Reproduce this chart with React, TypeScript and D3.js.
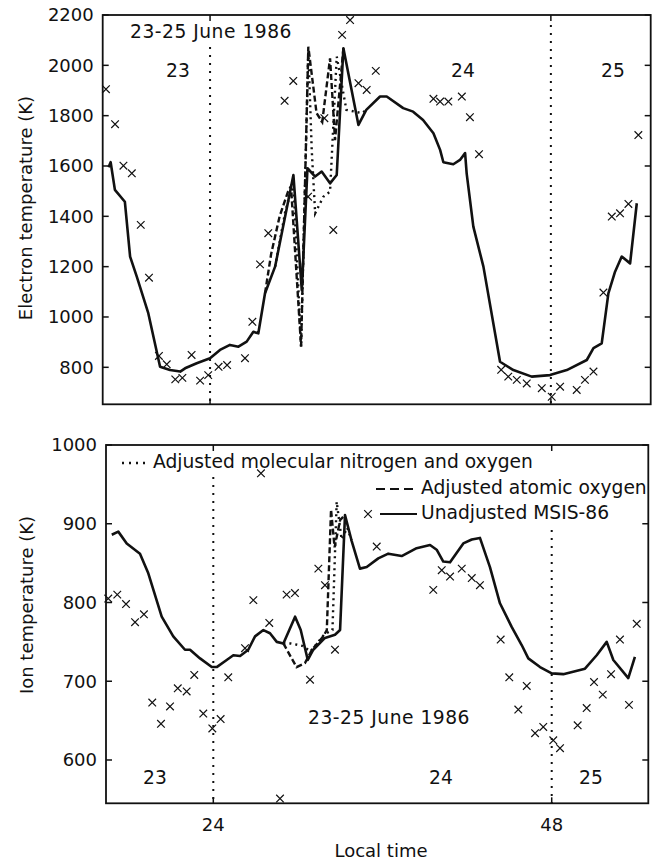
import React from 'react';
import * as d3 from 'd3';

// ---------- Data ----------
// Top panel: electron temperature (K) vs local time (h)
const teModelHours = [16.85, 17.0, 17.3, 18.0, 18.37, 18.84, 19.65, 20.48, 21.18, 21.9, 22.24, 23.06, 24.0, 24.7, 25.4, 26.0, 26.58, 27.05, 27.4, 27.87, 28.58, 29.87, 30.46, 30.86, 31.4, 31.86, 32.45, 32.92, 33.39, 34.45, 35.0, 35.97, 36.44, 37.6, 38.3, 39.0, 39.73, 40.2, 40.43, 41.13, 41.6, 41.96, 42.07, 42.54, 43.25, 44.42, 45.36, 46.65, 47.94, 49.12, 50.53, 51.0, 51.58, 52.05, 52.52, 52.99, 53.58, 54.05];
const teModelTemps = [1595, 1615, 1505, 1458, 1240, 1160, 1015, 802, 789, 783, 796, 816, 836, 869, 889, 882, 902, 941, 935, 1094, 1200, 1564, 1107, 1591, 1558, 1578, 1531, 1564, 2068, 1763, 1823, 1876, 1876, 1830, 1816, 1783, 1730, 1664, 1615, 1607, 1624, 1651, 1571, 1359, 1200, 822, 789, 763, 769, 789, 829, 876, 895, 1094, 1180, 1240, 1213, 1452];

const teAtomicHours = [27.87, 28.3, 28.9, 29.5, 29.7, 30.41, 30.92, 31.5, 31.9, 32.45, 32.8, 33.39];
const teAtomicTemps = [1094, 1250, 1400, 1500, 1520, 882, 2074, 1810, 1775, 2028, 1703, 2068];

const teMolecularHours = [28.58, 29.3, 29.87, 30.41, 30.92, 31.16, 31.4, 31.98, 32.45, 32.92, 33.6, 34.68, 35.0];
const teMolecularTemps = [1200, 1420, 1530, 882, 2060, 1664, 1412, 1478, 1498, 2035, 1823, 1810, 1823];

const teObsHours = [16.67, 17.31, 17.9, 18.49, 19.12, 19.7, 20.4, 20.95, 21.55, 22.05, 22.7, 23.3, 23.87, 24.6, 25.2, 26.46, 26.98, 27.52, 28.1, 29.25, 29.86, 30.9, 32.05, 32.68, 33.3, 33.86, 34.45, 35.03, 35.67, 39.73, 40.2, 40.78, 41.73, 42.3, 42.94, 44.5, 45.0, 45.6, 46.3, 47.36, 48.06, 48.65, 49.82, 50.4, 51.0, 51.7, 52.29, 52.87, 53.46, 54.16];
const teObsTemps = [1905, 1766, 1601, 1571, 1366, 1156, 845, 812, 752, 758, 849, 747, 769, 802, 809, 836, 981, 1209, 1333, 1859, 1938, 1478, 1790, 1346, 2121, 2180, 1929, 1902, 1978, 1867, 1856, 1856, 1876, 1794, 1647, 790, 763, 750, 736, 717, 683, 723, 710, 750, 783, 1097, 1399, 1412, 1449, 1723];

// Bottom panel: ion temperature (K) vs local time (h)
const tiModelHours = [16.8, 17.26, 17.86, 18.8, 19.39, 20.34, 21.16, 21.99, 22.35, 23.06, 23.89, 24.24, 24.95, 25.42, 25.9, 26.48, 26.96, 27.55, 28.02, 28.5, 28.97, 29.8, 30.2, 30.7, 31.09, 31.92, 32.63, 32.99, 33.34, 33.8, 34.4, 34.88, 35.7, 36.41, 37.36, 38.42, 39.37, 39.84, 40.31, 40.79, 41.73, 42.33, 42.91, 43.62, 44.33, 45.16, 45.87, 46.34, 47.17, 48.0, 48.82, 50.36, 51.19, 51.9, 52.37, 53.43, 53.9];
const tiModelTemps = [886, 890, 875, 862, 837, 782, 757, 740, 740, 729, 718, 718, 727, 733, 732, 740, 757, 765, 761, 750, 748, 782, 765, 727, 740, 755, 759, 765, 911, 879, 843, 845, 856, 862, 859, 869, 873, 867, 852, 851, 875, 880, 882, 845, 799, 769, 746, 729, 718, 710, 709, 716, 733, 750, 727, 704, 731];

const tiAtomicHours = [28.97, 29.9, 30.5, 31.0, 31.8, 32.05, 32.35, 32.6, 33.0, 33.34];
const tiAtomicTemps = [748, 718, 723, 740, 757, 765, 918, 870, 905, 911];

const tiMolecularHours = [28.97, 29.5, 30.3, 30.9, 31.9, 32.45, 32.75, 33.1, 33.5, 33.8];
const tiMolecularTemps = [748, 748, 745, 738, 760, 765, 928, 880, 895, 879];

const tiObsHours = [16.55, 17.19, 17.81, 18.45, 19.08, 19.67, 20.29, 20.93, 21.48, 22.11, 22.65, 23.29, 23.93, 24.52, 25.06, 26.25, 26.84, 27.38, 27.97, 28.73, 29.2, 29.79, 30.86, 31.45, 31.92, 32.63, 35.59, 39.6, 40.2, 40.79, 41.62, 42.33, 42.91, 44.38, 44.99, 45.63, 46.23, 46.82, 47.4, 48.11, 48.59, 49.84, 50.48, 51.0, 51.62, 52.21, 52.84, 53.48, 54.03];
const tiObsTemps = [805, 810, 798, 775, 785, 673, 646, 668, 691, 687, 708, 659, 640, 652, 705, 742, 803, 964, 774, 551, 810, 812, 702, 843, 822, 740, 871, 816, 841, 833, 843, 831, 822, 753, 705, 664, 694, 634, 642, 625, 615, 644, 666, 699, 683, 709, 753, 670, 773];

const teTicks = [800, 1000, 1200, 1400, 1600, 1800, 2000, 2200];
const tiTicks = [600, 700, 800, 900, 1000];
const xTicks = [24, 48];
const dayBoundaries = [24, 48];

const legendLabels = [
  'Adjusted molecular nitrogen and oxygen',
  'Adjusted atomic oxygen',
  'Unadjusted MSIS-86',
];

// ---------- Layout ----------
const W = 657;
const H = 861;
const FONT = "'DejaVu Sans', Verdana, sans-serif";
const FS = 18;
const FS_ANN = 18.7;

const xTop = d3.scaleLinear().domain([16.44, 55.03]).range([102.7, 650.7]);
const yTop = d3.scaleLinear().domain([653, 2200]).range([404.3, 15]);
const xBot = d3.scaleLinear().domain([16.39, 54.85]).range([106, 648.3]);
const yBot = d3.scaleLinear().domain([545, 1000]).range([803.3, 445]);

function pathFor(x: any, y: any, hs: number[], vs: number[]) {
  const pts: [number, number][] = hs.map((h, i) => [h, vs[i]]);
  return d3.line<[number, number]>().x(d => x(d[0])).y(d => y(d[1]))(pts) || '';
}

const CROSS = 'M-3.8,-3.8L3.8,3.8M-3.8,3.8L3.8,-3.8';

function Crosses({ x, y, hs, vs }: any) {
  return (
    <g>
      {hs.map((h: number, i: number) => (
        <path key={i} d={CROSS} transform={`translate(${x(h)},${y(vs[i])})`} stroke="#111" strokeWidth={1.2} fill="none" />
      ))}
    </g>
  );
}

function Frame({ x, y, yTicks, tickLabels }: any) {
  const [x0, x1] = x.range();
  const [y0, y1] = y.range(); // y0 bottom, y1 top
  const tl = 6;
  return (
    <g>
      <rect x={x0} y={y1} width={x1 - x0} height={y0 - y1} fill="none" stroke="#111" strokeWidth={1.8} />
      {yTicks.map((t: number) => (
        <g key={t}>
          <line x1={x0} x2={x0 + tl} y1={y(t)} y2={y(t)} stroke="#111" strokeWidth={1.5} />
          <line x1={x1} x2={x1 - tl} y1={y(t)} y2={y(t)} stroke="#111" strokeWidth={1.5} />
          <text x={x0 - 9} y={y(t)} dy="0.36em" textAnchor="end" fontSize={FS} fontFamily={FONT} fill="#111">{t}</text>
        </g>
      ))}
      {xTicks.map((t: number) => (
        <g key={t}>
          <line x1={x(t)} x2={x(t)} y1={y0} y2={y0 - tl} stroke="#111" strokeWidth={1.5} />
          <line x1={x(t)} x2={x(t)} y1={y1} y2={y1 + tl} stroke="#111" strokeWidth={1.5} />
          {tickLabels && (
            <text x={x(t)} y={y0 + 28} textAnchor="middle" fontSize={FS} fontFamily={FONT} fill="#111">{t}</text>
          )}
        </g>
      ))}
    </g>
  );
}

const txt = (x: number, y: number, s: string, anchor: string = 'start', fs: number = FS_ANN) => (
  <text x={x} y={y} textAnchor={anchor as any} fontSize={fs} fontFamily={FONT} fill="#111">{s}</text>
);

export default function App() {
  const solid = { fill: 'none', stroke: '#111', strokeWidth: 2.6, strokeLinejoin: 'round' as const };
  const dashed = { fill: 'none', stroke: '#111', strokeWidth: 2.4, strokeDasharray: '6 3' };
  const dotted = { fill: 'none', stroke: '#111', strokeWidth: 2.4, strokeDasharray: '2 4' };
  const dayLine = { stroke: '#111', strokeWidth: 2, strokeDasharray: '2 6' };

  const topStarts = [47, 25];
  const botStarts = [477, 530];

  return (
    <svg width={W} height={H} style={{ position: 'absolute', left: 0, top: 0, background: '#fff' }}>
      <rect x={0} y={0} width={W} height={H} fill="#fff" />
      {/* ---------- Top panel ---------- */}
      {dayBoundaries.map((d, i) => (
        <line key={d} x1={xTop(d)} x2={xTop(d)} y1={topStarts[i]} y2={yTop.range()[0]} {...dayLine} />
      ))}
      <path d={pathFor(xTop, yTop, teMolecularHours, teMolecularTemps)} {...dotted} />
      <path d={pathFor(xTop, yTop, teAtomicHours, teAtomicTemps)} {...dashed} />
      <path d={pathFor(xTop, yTop, teModelHours, teModelTemps)} {...solid} />
      <Crosses x={xTop} y={yTop} hs={teObsHours} vs={teObsTemps} />
      <Frame x={xTop} y={yTop} yTicks={teTicks} tickLabels={false} />
      <text x={130} y={38} fontSize={FS_ANN} fontFamily={FONT} fill="#111" letterSpacing={0.5}>23-25 June 1986</text>
      {txt(178, 77, '23', 'middle')}
      {txt(463, 77, '24', 'middle')}
      {txt(613, 77, '25', 'middle')}
      <text transform="translate(32,208) rotate(-90)" textAnchor="middle" fontSize={FS} fontFamily={FONT} fill="#111">Electron temperature (K)</text>

      {/* ---------- Bottom panel ---------- */}
      {dayBoundaries.map((d, i) => (
        <line key={d} x1={xBot(d)} x2={xBot(d)} y1={botStarts[i]} y2={yBot.range()[0]} {...dayLine} />
      ))}
      <path d={pathFor(xBot, yBot, tiMolecularHours, tiMolecularTemps)} {...dotted} />
      <path d={pathFor(xBot, yBot, tiAtomicHours, tiAtomicTemps)} {...dashed} />
      <path d={pathFor(xBot, yBot, tiModelHours, tiModelTemps)} {...solid} />
      <Crosses x={xBot} y={yBot} hs={tiObsHours} vs={tiObsTemps} />
      <Frame x={xBot} y={yBot} yTicks={tiTicks} tickLabels={true} />

      {/* legend */}
      <line x1={122} x2={149} y1={463} y2={463} stroke="#111" strokeWidth={2.4} strokeDasharray="2 5" />
      {txt(153, 468, legendLabels[0])}
      <line x1={376} x2={417} y1={489} y2={489} stroke="#111" strokeWidth={2.2} strokeDasharray="9 5" />
      {txt(421, 494, legendLabels[1])}
      <path d={CROSS} transform="translate(368,514)" stroke="#111" strokeWidth={1.2} fill="none" />
      <line x1={380} x2={417} y1={514} y2={514} stroke="#111" strokeWidth={2.2} />
      {txt(421, 519, legendLabels[2])}

      <text x={389} y={724} textAnchor="middle" fontSize={FS_ANN} fontFamily={FONT} fill="#111" letterSpacing={0.5}>23-25 June 1986</text>
      {txt(155, 784, '23', 'middle')}
      {txt(441, 784, '24', 'middle')}
      {txt(591, 784, '25', 'middle')}
      <text transform="translate(33,605) rotate(-90)" textAnchor="middle" fontSize={FS} fontFamily={FONT} fill="#111">Ion temperature (K)</text>
      {txt(381, 857, 'Local time', 'middle', FS)}
    </svg>
  );
}
